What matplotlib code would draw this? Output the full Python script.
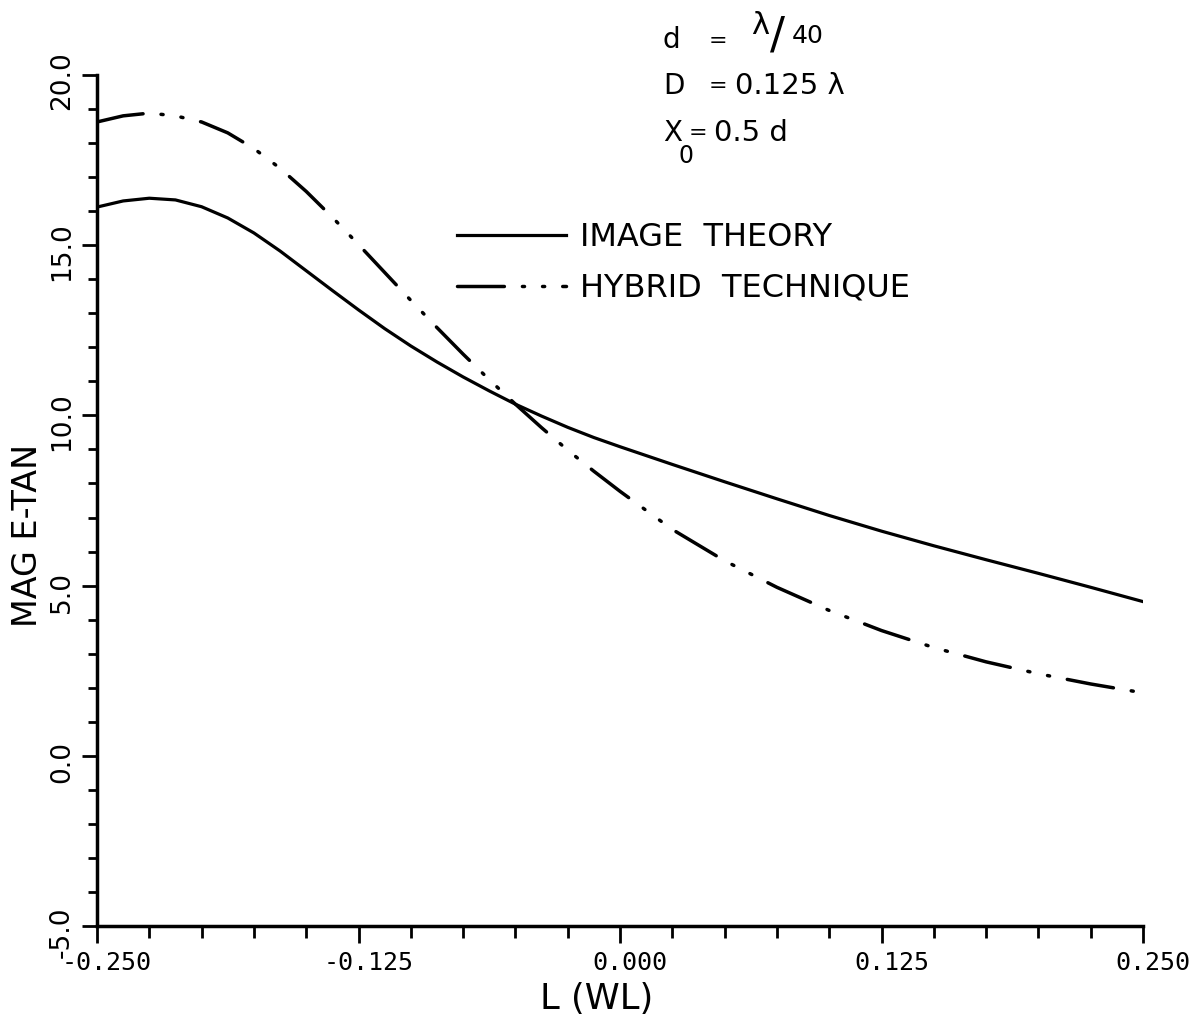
import matplotlib
matplotlib.use("Agg")
import matplotlib.pyplot as plt
from matplotlib.ticker import MultipleLocator, FixedLocator, FuncFormatter
from matplotlib.transforms import ScaledTranslation

plt.rcParams['axes.unicode_minus'] = False

# L (WL) positions and |E-tan|
x_image = [-0.25, -0.2375, -0.225, -0.2125, -0.2, -0.1875, -0.175, -0.1625,
           -0.15, -0.1375, -0.125, -0.1125, -0.1, -0.0875, -0.075, -0.0625,
           -0.05, -0.0375, -0.025, -0.0125, 0.0, 0.025, 0.05, 0.075, 0.1,
           0.125, 0.15, 0.175, 0.2, 0.225, 0.25]
mag_image = [16.12, 16.30, 16.38, 16.33, 16.13, 15.80, 15.36, 14.83,
             14.25, 13.67, 13.10, 12.55, 12.04, 11.57, 11.13, 10.72,
             10.33, 9.98, 9.65, 9.35, 9.08, 8.56, 8.05, 7.55, 7.06,
             6.60, 6.17, 5.76, 5.36, 4.95, 4.53]

x_hybrid = x_image
mag_hybrid = [18.62, 18.80, 18.88, 18.80, 18.62, 18.30, 17.84, 17.26,
              16.58, 15.82, 15.02, 14.20, 13.38, 12.58, 11.80, 11.05,
              10.33, 9.64, 8.98, 8.36, 7.77, 6.65, 5.73, 4.95, 4.27,
              3.68, 3.18, 2.76, 2.41, 2.11, 1.85]

labels = ['IMAGE  THEORY', 'HYBRID  TECHNIQUE']
x_major = [-0.25, -0.125, 0.0, 0.125, 0.25]

W, H = 1203, 1016
fig = plt.figure(figsize=(W / 100, H / 100), dpi=100)
ax = fig.add_axes([97 / W, 90 / H, 1046 / W, 851 / H])

ax.plot(x_image, mag_image, color='black', lw=2.3, label=labels[0])
ax.plot(x_hybrid, mag_hybrid, color='black', lw=2.5,
        linestyle=(0, (13.5, 5.2, 0.6, 5.2, 0.6, 5.2)), dash_capstyle='round',
        label=labels[1])

ax.set_xlim(-0.25, 0.25)
ax.set_ylim(-5, 20)
for side in ['top', 'right']:
    ax.spines[side].set_visible(False)
for side in ['left', 'bottom']:
    ax.spines[side].set_linewidth(2.5)

ax.xaxis.set_major_locator(FixedLocator(x_major))
ax.xaxis.set_minor_locator(MultipleLocator(0.025))
ax.xaxis.set_major_formatter(FuncFormatter(lambda v, p: f'{v:.3f}'))
ax.yaxis.set_major_locator(MultipleLocator(5))
ax.yaxis.set_minor_locator(MultipleLocator(1))
ax.yaxis.set_major_formatter(FuncFormatter(lambda v, p: f'{v:.1f}'))

ax.tick_params(axis='x', which='major', direction='out', length=12, width=2,
               labelsize=18, pad=6)
ax.tick_params(axis='x', which='minor', direction='out', length=8.5, width=2)
ax.tick_params(axis='y', which='major', direction='out', length=11, width=2,
               labelsize=19, labelrotation=90, pad=5)
ax.tick_params(axis='y', which='minor', direction='out', length=6.5, width=2)

for lbl in ax.get_xticklabels():
    lbl.set_fontfamily('DejaVu Sans Mono')
    lbl.set_transform(lbl.get_transform() + ScaledTranslation(0.1, 0, fig.dpi_scale_trans))
for lbl in ax.get_yticklabels():
    lbl.set_va('center')
    lbl.set_transform(lbl.get_transform() + ScaledTranslation(0, -0.06, fig.dpi_scale_trans))

ax.set_xlabel('L (WL)', fontsize=25.5, va='baseline')
ax.xaxis.set_label_coords((597 - 97) / 1046, (926 - 1009) / 851)
ax.set_ylabel('MAG E-TAN', fontsize=24, va='baseline')
ax.yaxis.set_label_coords((37 - 97) / 1046, (926 - 535) / 851)

ax.legend(loc='center left', bbox_to_anchor=(457 / W, 1 - 263 / H),
          bbox_transform=fig.transFigure, frameon=False, fontsize=23,
          handlelength=3.4, handletextpad=0.45, labelspacing=0.62,
          borderpad=0, borderaxespad=0)


def fpos(x, y):
    return x / W, 1 - y / H


# parameter block, top right
fig.text(*fpos(663, 48), 'd', fontsize=20, va='baseline')
fig.text(*fpos(718, 41), '=', fontsize=16, ha='center', va='center')
fig.text(*fpos(751, 34), 'λ', fontsize=22, va='baseline')
fig.text(*fpos(770, 49), '/', fontsize=32, va='baseline')
fig.text(*fpos(792, 43), '40', fontsize=18, va='baseline')

fig.text(*fpos(663, 94), 'D', fontsize=20, va='baseline')
fig.text(*fpos(718, 86), '=', fontsize=16, ha='center', va='center')
fig.text(*fpos(735, 94), '0.125 λ', fontsize=21, va='baseline')

fig.text(*fpos(663, 141), 'X', fontsize=20, va='baseline')
fig.text(*fpos(678, 163), '0', fontsize=17, va='baseline')
fig.text(*fpos(698, 133), '=', fontsize=16, ha='center', va='center')
fig.text(*fpos(714, 141), '0.5 d', fontsize=21, va='baseline')

fig.savefig('out.png', dpi=100)
